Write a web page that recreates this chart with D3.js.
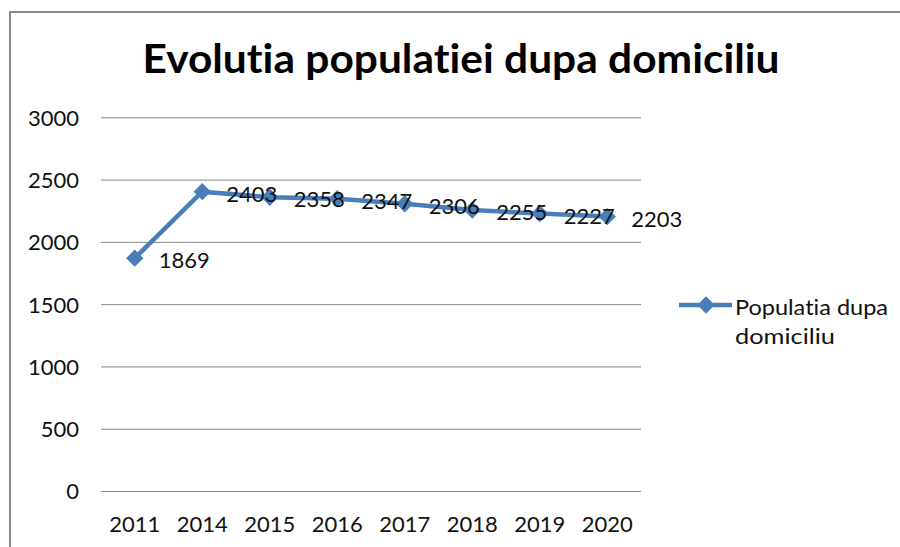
<!DOCTYPE html>
<html>
<head>
<meta charset="utf-8">
<script src="https://cdn.jsdelivr.net/npm/d3@7"></script>
<style>
  body { margin: 0; background: #fff; }
  svg text { font-family: Lato, "Open Sans", sans-serif; fill: #111; font-variant-ligatures: none; font-feature-settings: "liga" 0; }
</style>
</head>
<body>
<script>
// data
const years = ["2011", "2014", "2015", "2016", "2017", "2018", "2019", "2020"];
const population = [1869, 2403, 2358, 2347, 2306, 2255, 2227, 2203];
const yTicks = [0, 500, 1000, 1500, 2000, 2500, 3000];
const seriesName = ["Populatia dupa", "domiciliu"];
const title = "Evolutia populatiei dupa domiciliu";

const width = 900, height = 547;
const blue = "#4a7ebb";
const fs = 22;

let svg = d3.select("body").append("svg")
    .attr("width", width)
    .attr("height", height);

// chart frame (runs off the right and bottom of the picture)
svg.append("rect")
    .attr("x", 10).attr("y", 12)
    .attr("width", 1000).attr("height", 1000)
    .attr("fill", "none")
    .attr("stroke", "#8a8a8a")
    .attr("stroke-width", 2);

// title
svg.append("text")
    .attr("x", 461).attr("y", 73)
    .attr("text-anchor", "middle")
    .attr("font-size", 40)
    .attr("font-weight", "bold")
    .attr("textLength", 637)
    .attr("lengthAdjust", "spacingAndGlyphs")
    .style("fill", "#000")
    .text(title);

// scales
let x = d3.scaleBand().domain(years).range([101, 641]);
let y = d3.scaleLinear().domain([0, 3000]).range([491, 117.3]);
let cx = (d) => x(d) + x.bandwidth() / 2;

// y axis + gridlines
let yAxis = svg.append("g")
    .attr("transform", "translate(101,0)")
    .call(d3.axisLeft(y).tickValues(yTicks).tickFormat(d3.format("d")).tickSize(-540).tickPadding(22));
yAxis.select(".domain").remove();
yAxis.selectAll("line").attr("stroke", "#868686");
yAxis.selectAll("text")
    .attr("font-size", fs)
    .attr("dy", "0.36em");

// x axis labels
let xAxis = svg.append("g")
    .attr("transform", "translate(0,491)")
    .call(d3.axisBottom(x).tickSize(0).tickPadding(25));
xAxis.select(".domain").remove();
xAxis.selectAll("text").attr("font-size", fs);
svg.selectAll(".tick text").style("font-family", "Lato, 'Open Sans', sans-serif").style("fill", "#111");

// line
let line = d3.line()
    .x((d, i) => cx(years[i]))
    .y((d) => y(d));

svg.append("path")
    .datum(population)
    .attr("d", line)
    .attr("fill", "none")
    .attr("stroke", blue)
    .attr("stroke-width", 4.5)
    .attr("stroke-linejoin", "round");

let diamond = d3.symbol().type(d3.symbolSquare).size(150);

svg.selectAll(".marker")
    .data(population)
    .enter().append("path")
    .attr("class", "marker")
    .attr("d", diamond)
    .attr("transform", (d, i) => "translate(" + cx(years[i]) + "," + y(d) + ") rotate(45)")
    .attr("fill", blue);

// data labels
svg.selectAll(".label")
    .data(population)
    .enter().append("text")
    .attr("class", "label")
    .attr("x", (d, i) => cx(years[i]) + 24)
    .attr("y", (d) => y(d) + 10)
    .attr("font-size", fs)
    .text((d) => d);

// legend
let legend = svg.append("g");
legend.append("line")
    .attr("x1", 679).attr("x2", 732)
    .attr("y1", 305).attr("y2", 305)
    .attr("stroke", blue)
    .attr("stroke-width", 4.5);
legend.append("path")
    .attr("d", diamond)
    .attr("transform", "translate(706,305) rotate(45)")
    .attr("fill", blue);
legend.selectAll("text")
    .data(seriesName)
    .enter().append("text")
    .attr("x", 735)
    .attr("y", (d, i) => 315 + i * 29)
    .attr("font-size", fs)
    .attr("textLength", (d, i) => i === 0 ? 153 : 100)
    .attr("lengthAdjust", "spacingAndGlyphs")
    .text((d) => d);
</script>
</body>
</html>
